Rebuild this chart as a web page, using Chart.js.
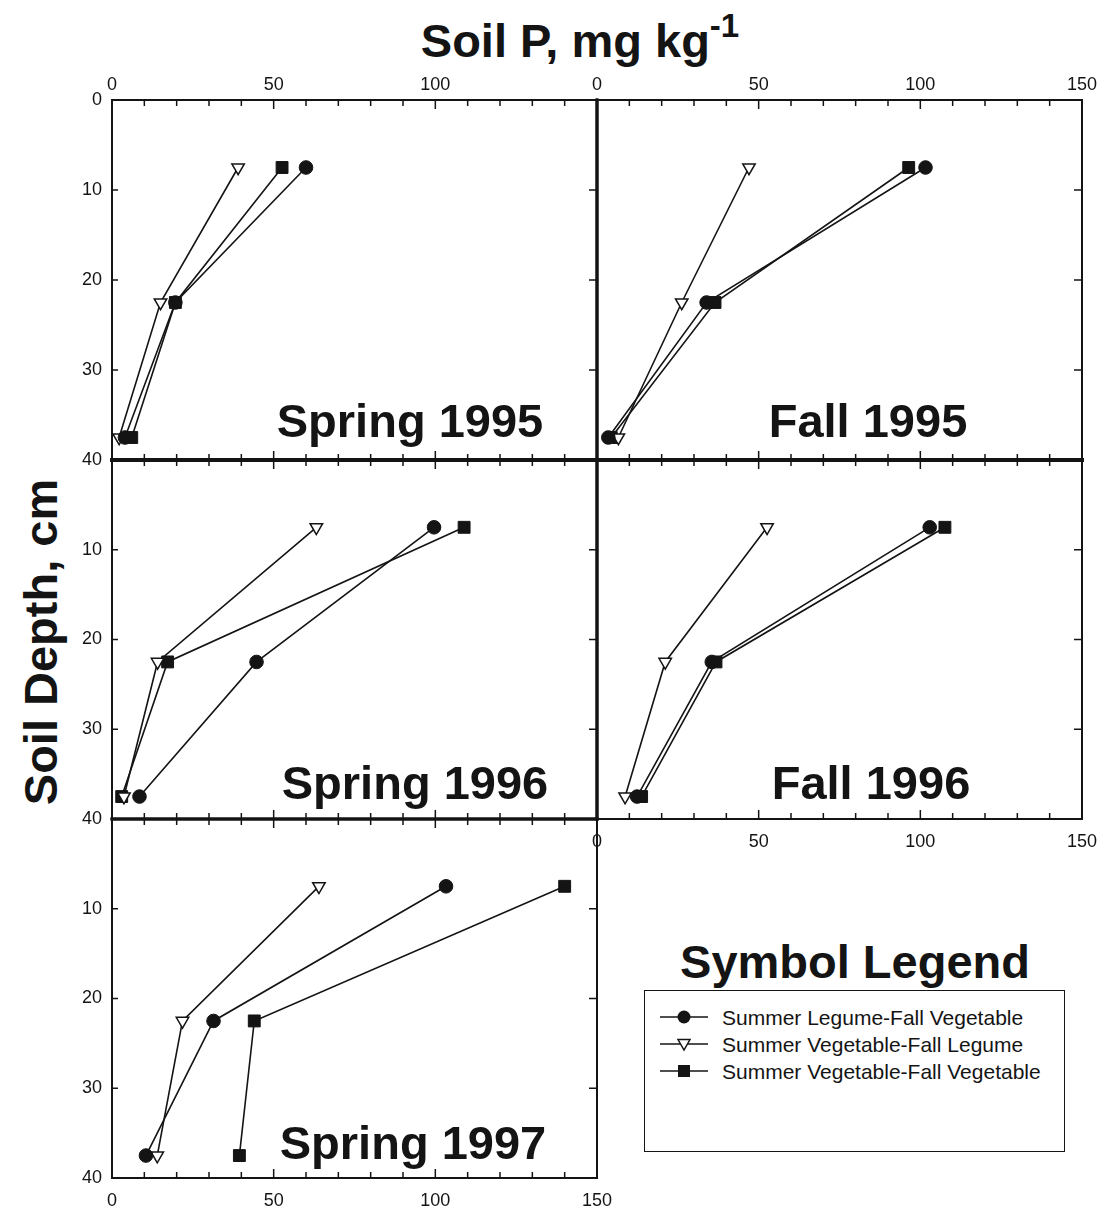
<!DOCTYPE html>
<html>
<head>
<meta charset="utf-8">
<script src="https://cdn.jsdelivr.net/npm/chart.js@4.4.1/dist/chart.umd.min.js"></script>
<style>
html,body{margin:0;padding:0;background:#fff;}
body{width:1104px;height:1212px;position:relative;overflow:hidden;font-family:"Liberation Sans",Arial,Helvetica,sans-serif;color:#141414;}
canvas.cv{position:absolute;}
.big{position:absolute;font-weight:bold;font-size:47px;line-height:47px;white-space:nowrap;transform:translateX(-50%);}
#ytitle{position:absolute;font-weight:bold;font-size:47px;line-height:47px;white-space:nowrap;transform:translate(-50%,-50%) rotate(-90deg);}
#title sup{font-size:33px;line-height:0;position:relative;top:-3px;vertical-align:super;}
#legBox{position:absolute;border:1.5px solid #141414;box-sizing:border-box;}
.legRow{position:absolute;font-size:21px;line-height:21px;white-space:nowrap;}
</style>
</head>
<body>
<div id="title" class="big" style="left:580px;top:17px;">Soil P, mg kg<sup>-1</sup></div>
<div id="ytitle" style="left:40px;top:642px;">Soil Depth, cm</div>
<div id="legTitle" class="big" style="left:855px;top:938px;">Symbol Legend</div>
<div id="legBox" style="left:644px;top:990px;width:421px;height:162px;"></div>
<script>
// ---- data ----
const depths = [7.5, 22.5, 37.5];            // cm
const seriesNames = ['Summer Legume-Fall Vegetable', 'Summer Vegetable-Fall Legume', 'Summer Vegetable-Fall Vegetable'];
const panelTitles = ['Spring 1995', 'Fall 1995', 'Spring 1996', 'Fall 1996', 'Spring 1997'];

const spring1995_SLFV = [60.0, 19.6, 4.0];
const spring1995_SVFL = [39.0, 15.0, 2.2];
const spring1995_SVFV = [52.6, 19.6, 6.1];

const fall1995_SLFV = [101.6, 33.9, 3.5];
const fall1995_SVFL = [47.0, 26.2, 6.6];
const fall1995_SVFV = [96.4, 36.5, 4.4];

const spring1996_SLFV = [99.6, 44.7, 8.5];
const spring1996_SVFL = [63.2, 14.1, 3.7];
const spring1996_SVFV = [108.9, 17.2, 3.0];

const fall1996_SLFV = [102.9, 35.5, 12.4];
const fall1996_SVFL = [52.6, 21.1, 8.7];
const fall1996_SVFV = [107.6, 36.8, 13.8];

const spring1997_SLFV = [103.3, 31.4, 10.5];
const spring1997_SVFL = [64.0, 21.8, 14.0];
const spring1997_SVFV = [140.0, 44.0, 39.4];

const xTickLabels = [0, 50, 100, 150];
const yTickLabels = [0, 10, 20, 30, 40];

// ---- layout / style ----
const INK = '#141414';
const ML = 70, MR = 30, MT = 40, MB = 40;
const seriesStyles = [
  {style: 'circle',   r: 6.8, rot: 0,   fill: INK,    bw: 1},
  {style: 'triangle', r: 7.2, rot: 180, fill: '#fff', bw: 1.5},
  {style: 'rect',     r: 8.4, rot: 0,   fill: INK,    bw: 1}
];
const panels = [
  {values: [spring1995_SLFV, spring1995_SVFL, spring1995_SVFV], box: [112, 100, 485, 360],
   xTop: [0, 50, 100], xBot: [], yL: [0, 10, 20, 30, 40], edge: {t: 2, l: 2, r: 3, b: 4}, leftTicks: true,
   label: [410, 397]},
  {values: [fall1995_SLFV, fall1995_SVFL, fall1995_SVFV], box: [597, 100, 485, 360],
   xTop: [0, 50, 100, 150], xBot: [], yL: [], edge: {t: 2, l: 3, r: 2, b: 4}, leftTicks: false,
   label: [868, 397]},
  {values: [spring1996_SLFV, spring1996_SVFL, spring1996_SVFV], box: [112, 460, 485, 359],
   xTop: [], xBot: [], yL: [10, 20, 30, 40], edge: {t: 4, l: 2, r: 3, b: 3}, leftTicks: true,
   label: [415, 759]},
  {values: [fall1996_SLFV, fall1996_SVFL, fall1996_SVFV], box: [597, 460, 485, 359],
   xTop: [], xBot: [0, 50, 100, 150], yL: [], edge: {t: 4, l: 3, r: 2, b: 2}, leftTicks: false,
   label: [871, 759]},
  {values: [spring1997_SLFV, spring1997_SVFL, spring1997_SVFV], box: [112, 819, 485, 359],
   xTop: [], xBot: [0, 50, 100, 150], yL: [10, 20, 30, 40], edge: {t: 3, l: 2, r: 2, b: 2}, leftTicks: true,
   label: [413, 1119]}
];

Chart.defaults.font.family = '"Liberation Sans", Arial, Helvetica, sans-serif';
Chart.defaults.color = INK;

const framePlugin = {
  id: 'frame',
  beforeDatasetsDraw(chart, args, opts) {
    const {ctx, chartArea: a, scales} = chart;
    const e = opts.edge;
    ctx.save();
    ctx.strokeStyle = INK;
    ctx.lineCap = 'square';
    const side = (w, x1, y1, x2, y2) => { ctx.lineWidth = w; ctx.beginPath(); ctx.moveTo(x1, y1); ctx.lineTo(x2, y2); ctx.stroke(); };
    side(e.t, a.left, a.top, a.right, a.top);
    side(e.b, a.left, a.bottom, a.right, a.bottom);
    side(e.l, a.left, a.top, a.left, a.bottom);
    side(e.r, a.right, a.top, a.right, a.bottom);
    ctx.lineWidth = 1.5;
    ctx.lineCap = 'butt';
    ctx.beginPath();
    scales.x.ticks.forEach(t => {
      if (t.value <= 0 || t.value >= 150) return;
      const px = scales.x.getPixelForValue(t.value);
      const len = t.value % 50 === 0 ? 9 : 6;
      ctx.moveTo(px, a.top); ctx.lineTo(px, a.top + len);
      ctx.moveTo(px, a.bottom); ctx.lineTo(px, a.bottom - len);
    });
    scales.y2.ticks.forEach(t => {
      if (t.value <= 0 || t.value >= 40) return;
      const py = scales.y2.getPixelForValue(t.value);
      ctx.moveTo(a.right, py); ctx.lineTo(a.right - 8, py);
      if (opts.leftTicks) { ctx.moveTo(a.left, py); ctx.lineTo(a.left + 6, py); }
    });
    ctx.stroke();
    ctx.restore();
  }
};

const tickFont = {size: 18, weight: 'normal'};

panels.forEach((p, idx) => {
  const [bx, by, bw, bh] = p.box;
  const c = document.createElement('canvas');
  c.className = 'cv';
  c.width = bw + ML + MR; c.height = bh + MT + MB;
  c.style.left = (bx - ML) + 'px'; c.style.top = (by - MT) + 'px';
  c.style.width = c.width + 'px'; c.style.height = c.height + 'px';
  document.body.appendChild(c);

  const xAxis = (pos, list, h, pad) => ({
    type: 'linear', axis: 'x', position: pos, min: 0, max: 150,
    grid: {display: false, drawTicks: false}, border: {display: false},
    ticks: {stepSize: 10, autoSkip: false, maxRotation: 0, padding: pad, font: tickFont,
            callback: v => list.includes(v) ? String(v) : ''},
    afterFit: s => { s.height = h; }
  });
  const yAxis = (pos, list, w) => ({
    type: 'linear', axis: 'y', position: pos, min: 0, max: 40, reverse: true,
    grid: {display: false, drawTicks: false}, border: {display: false},
    ticks: {stepSize: 10, autoSkip: false, padding: 10, font: tickFont,
            callback: v => list.includes(v) ? String(v) : ''},
    afterFit: s => { s.width = w; }
  });

  new Chart(c, {
    type: 'line',
    data: {
      datasets: p.values.map((vals, i) => {
        const s = seriesStyles[i];
        return {
          label: seriesNames[i],
          data: vals.map((v, j) => ({x: v, y: depths[j]})),
          borderColor: INK, borderWidth: 1.6, fill: false, tension: 0, clip: false,
          pointStyle: s.style, pointRadius: s.r, pointRotation: s.rot,
          pointBackgroundColor: s.fill, pointBorderColor: INK, pointBorderWidth: s.bw
        };
      })
    },
    options: {
      responsive: false, animation: false, devicePixelRatio: 1, events: [],
      layout: {padding: 0},
      plugins: {legend: {display: false}, tooltip: {enabled: false}, frame: {edge: p.edge, leftTicks: p.leftTicks}},
      scales: {
        x: xAxis('bottom', p.xBot, MB, 12),
        x2: xAxis('top', p.xTop, MT, 4),
        y: yAxis('left', p.yL, ML),
        y2: yAxis('right', [], MR)
      }
    },
    plugins: [framePlugin]
  });

  const d = document.createElement('div');
  d.className = 'big';
  d.style.left = p.label[0] + 'px'; d.style.top = p.label[1] + 'px';
  d.textContent = panelTitles[idx];
  document.body.appendChild(d);
});

// ---- legend ----
const legRowsY = [1017, 1044, 1071];
const markerSvg = [
  '<circle cx="24" cy="10" r="6.5" fill="' + INK + '"/>',
  '<polygon points="18,5.5 30,5.5 24,16" fill="#fff" stroke="' + INK + '" stroke-width="1.5"/>',
  '<rect x="18" y="4" width="12" height="12" fill="' + INK + '"/>'
];
seriesNames.forEach((name, i) => {
  const svg = document.createElementNS('http://www.w3.org/2000/svg', 'svg');
  svg.setAttribute('width', '50'); svg.setAttribute('height', '20');
  svg.style.position = 'absolute';
  svg.style.left = '660px'; svg.style.top = (legRowsY[i] - 10) + 'px';
  svg.innerHTML = '<line x1="0" y1="10" x2="48" y2="10" stroke="' + INK + '" stroke-width="1.6"/>' + markerSvg[i];
  document.body.appendChild(svg);
  const t = document.createElement('div');
  t.className = 'legRow';
  t.style.left = '722px'; t.style.top = (legRowsY[i] - 10) + 'px';
  t.textContent = name;
  document.body.appendChild(t);
});
</script>
</body>
</html>
